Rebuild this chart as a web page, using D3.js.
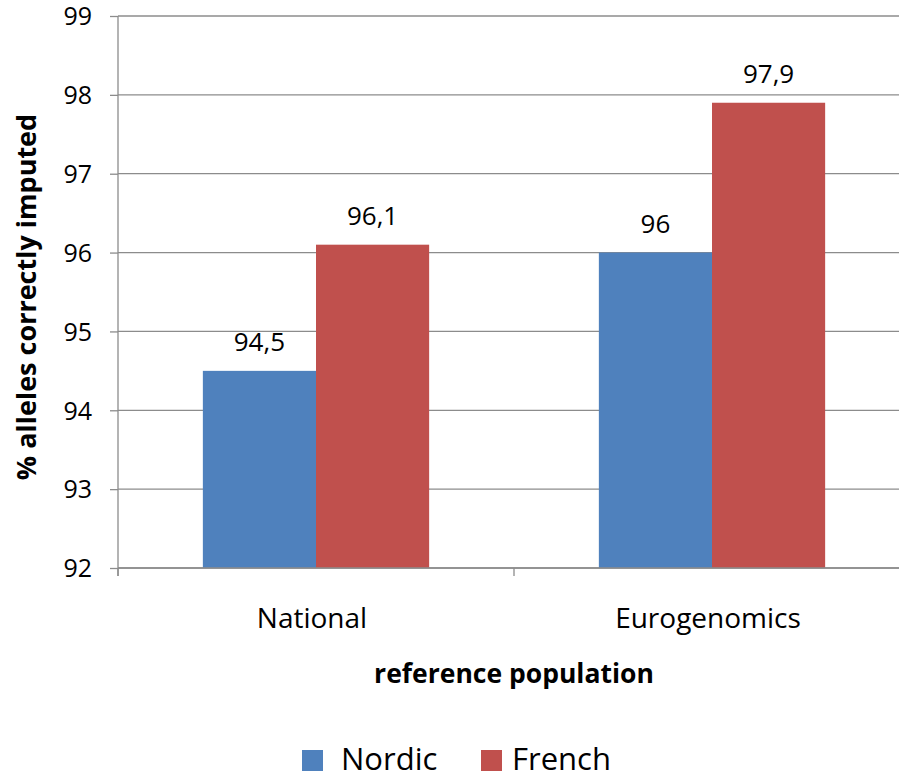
<!DOCTYPE html>
<html>
<head>
<meta charset="utf-8">
<script src="https://cdn.jsdelivr.net/npm/d3@7"></script>
<style>
  html, body { margin: 0; padding: 0; background: #fff; }
  svg { display: block; font-family: "Open Sans", sans-serif; }
</style>
</head>
<body>
<svg id="chart" width="899" height="775"></svg>
<script>
// Imputation accuracy by reference population
const categories = ["National", "Eurogenomics"];
const seriesNames = ["Nordic", "French"];
const nordicValues = [94.5, 96.0];
const frenchValues = [96.1, 97.9];
const valueLabels = [["94,5", "96,1"], ["96", "97,9"]];
const yTicks = [92, 93, 94, 95, 96, 97, 98, 99];
const colors = ["#4F81BD", "#C0504D"];

const svg = d3.select("#chart");
const plotLeft = 118, plotRight = 910, plotTop = 16, plotBottom = 568;

const x = d3.scaleBand().domain(categories).range([plotLeft, plotRight]).paddingInner(0).paddingOuter(0);
const inner = d3.scaleBand().domain(seriesNames).range([0, x.bandwidth()]).paddingInner(0).paddingOuter(0.75);
const y = d3.scaleLinear().domain([92, 99]).range([plotBottom, plotTop]);
const gridColor = "#8c8c8c";

// gridlines
svg.append("g").selectAll("line").data(yTicks).join("line")
  .attr("x1", plotLeft).attr("x2", 899)
  .attr("y1", d => y(d)).attr("y2", d => y(d))
  .attr("stroke", gridColor).attr("stroke-width", 1.3);

// bars with value labels
const rows = categories.map((c, i) => ({ cat: c, vals: [nordicValues[i], frenchValues[i]], labels: valueLabels[i] }));
const groups = svg.append("g").selectAll("g").data(rows).join("g")
  .attr("transform", d => `translate(${x(d.cat)},0)`);
groups.selectAll("rect").data(d => d.vals.map((v, j) => ({ v, s: seriesNames[j], j })))
  .join("rect")
  .attr("x", d => inner(d.s))
  .attr("width", inner.bandwidth())
  .attr("y", d => y(d.v))
  .attr("height", d => y(92) - y(d.v))
  .attr("fill", d => colors[d.j]);
groups.selectAll("text").data(d => d.vals.map((v, j) => ({ v, s: seriesNames[j], label: d.labels[j] })))
  .join("text")
  .attr("x", d => inner(d.s) + inner.bandwidth() / 2)
  .attr("y", d => y(d.v) - 20)
  .attr("text-anchor", "middle")
  .attr("font-size", 26)
  .attr("fill", "#000")
  .text(d => d.label);

// y axis
const yAxis = d3.axisLeft(y).tickValues(yTicks).tickSize(8).tickPadding(18).tickFormat(d3.format("d"));
const gy = svg.append("g").attr("transform", `translate(${plotLeft},0)`).call(yAxis);
gy.select(".domain").attr("stroke", gridColor).attr("stroke-width", 1.3).attr("d", `M0,${plotTop}V${plotBottom + 8}`);
gy.selectAll(".tick line").attr("stroke", gridColor).attr("stroke-width", 1.3);
gy.selectAll(".tick text").attr("font-size", 25).attr("font-family", "Open Sans").attr("fill", "#000").attr("dy", "0.35em");

// x axis
svg.append("line").attr("x1", plotLeft).attr("x2", 899).attr("y1", plotBottom).attr("y2", plotBottom)
  .attr("stroke", gridColor).attr("stroke-width", 1.3);
const catTicks = [plotLeft, plotLeft + x.bandwidth(), plotLeft + 2 * x.bandwidth()];
svg.append("g").selectAll("line").data(catTicks).join("line")
  .attr("x1", d => d).attr("x2", d => d).attr("y1", plotBottom).attr("y2", plotBottom + 8)
  .attr("stroke", gridColor).attr("stroke-width", 1.3);
svg.append("g").selectAll("text").data(categories).join("text")
  .attr("x", d => x(d) + x.bandwidth() / 2 - 4)
  .attr("y", 628)
  .attr("text-anchor", "middle")
  .attr("font-size", 28)
  .text(d => d);

// axis titles
svg.append("text").attr("x", 514).attr("y", 683).attr("text-anchor", "middle")
  .attr("font-size", 26.5).attr("font-weight", "bold").text("reference population");
svg.append("text").attr("transform", "translate(36,297) rotate(-90)").attr("text-anchor", "middle")
  .attr("font-size", 27).attr("font-weight", "bold").text("% alleles correctly imputed");

// legend
const legendX = [302, 481];
const lg = svg.append("g").selectAll("g").data(seriesNames).join("g")
  .attr("transform", (d, i) => `translate(${legendX[i]},750)`);
lg.append("rect").attr("width", 21).attr("height", 21).attr("fill", (d, i) => colors[i]);
lg.append("text").attr("x", d => d === "Nordic" ? 39 : 31).attr("y", 20).attr("font-size", 31).text(d => d);
</script>
</body>
</html>
